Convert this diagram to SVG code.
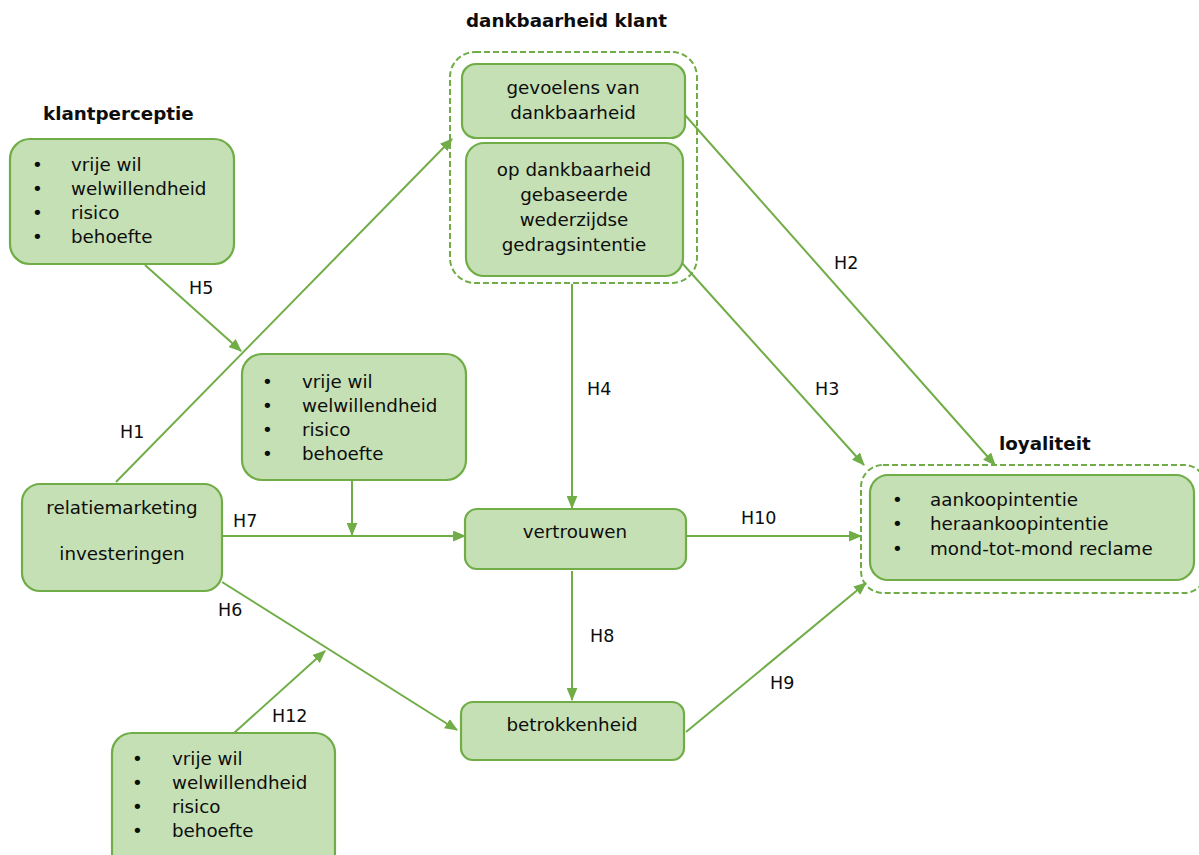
<svg xmlns="http://www.w3.org/2000/svg" width="1199" height="855" viewBox="0 0 1199 855">
<defs>
<style>
text{font-family:"DejaVu Sans","Verdana",sans-serif;font-size:18.3px;fill:#0d0d0d}
.t{font-weight:bold}
.c{text-anchor:middle}
.box{fill:#c5e0b4;stroke:#70ad47;stroke-width:2.2}
.grp{fill:none;stroke:#70ad47;stroke-width:2;stroke-dasharray:6 3}
.con line{stroke:#70ad47;stroke-width:2;marker-end:url(#ah)}
.lbl{font-size:17.5px}
</style>
<marker id="ah" viewBox="0 0 12 10" refX="11" refY="5" markerWidth="13" markerHeight="11" markerUnits="userSpaceOnUse" orient="auto">
<path d="M0,0 L12,5 L0,10 z" fill="#70ad47"/>
</marker>
</defs>
<rect width="1199" height="855" fill="#fff"/>

<g id="title-klantperceptie"><text class="t" x="43" y="120">klantperceptie</text></g>
<g id="title-dankbaarheid"><text class="t" x="466" y="27">dankbaarheid klant</text></g>
<g id="title-loyaliteit"><text class="t" x="999" y="450">loyaliteit</text></g>

<g id="connectors" class="con">
<line x1="145" y1="265" x2="241" y2="351"/>
<line x1="116" y1="482" x2="452" y2="139"/>
<line x1="685" y1="115" x2="995" y2="465"/>
<line x1="682" y1="263" x2="864" y2="465"/>
<line x1="572" y1="284" x2="572" y2="508"/>
<line x1="352" y1="481" x2="352" y2="535"/>
<line x1="222" y1="536" x2="465" y2="536"/>
<line x1="686" y1="536" x2="861" y2="536"/>
<line x1="572" y1="571" x2="572" y2="700"/>
<line x1="686" y1="732" x2="866" y2="583"/>
<line x1="222" y1="582" x2="457" y2="730"/>
<line x1="234" y1="733" x2="325" y2="651"/>
<g class="lbl-g">
<text class="lbl" x="189" y="294">H5</text>
<text class="lbl" x="120" y="438">H1</text>
<text class="lbl" x="834" y="269">H2</text>
<text class="lbl" x="815" y="395">H3</text>
<text class="lbl" x="587" y="395">H4</text>
<text class="lbl" x="368" y="478">H11</text>
<text class="lbl" x="233" y="527">H7</text>
<text class="lbl" x="741" y="524">H10</text>
<text class="lbl" x="590" y="642">H8</text>
<text class="lbl" x="770" y="689">H9</text>
<text class="lbl" x="218" y="616">H6</text>
<text class="lbl" x="272" y="722">H12</text>
</g>
</g>

<g id="klantperceptie">
<rect class="box" x="10" y="139" width="224" height="125" rx="20"/>
<text x="32" y="171">•</text><text x="71" y="171">vrije wil</text>
<text x="32" y="195">•</text><text x="71" y="195">welwillendheid</text>
<text x="32" y="219">•</text><text x="71" y="219">risico</text>
<text x="32" y="243">•</text><text x="71" y="243">behoefte</text>
</g>

<g id="dankbaarheid-klant">
<rect class="grp" x="450" y="52" width="247" height="231" rx="25"/>
</g>
<g id="gevoelens">
<rect class="box" x="462" y="64" width="223" height="74" rx="14"/>
<text class="c" x="573" y="94">gevoelens van</text>
<text class="c" x="573" y="119">dankbaarheid</text>
</g>
<g id="gedragsintentie">
<rect class="box" x="466" y="143" width="217" height="133" rx="18"/>
<text class="c" x="574" y="176">op dankbaarheid</text>
<text class="c" x="574" y="201">gebaseerde</text>
<text class="c" x="574" y="226">wederzijdse</text>
<text class="c" x="574" y="251">gedragsintentie</text>
</g>

<g id="moderator-h11">
<rect class="box" x="242" y="354" width="224" height="126" rx="20"/>
<text x="262" y="388">•</text><text x="302" y="388">vrije wil</text>
<text x="262" y="412">•</text><text x="302" y="412">welwillendheid</text>
<text x="262" y="436">•</text><text x="302" y="436">risico</text>
<text x="262" y="460">•</text><text x="302" y="460">behoefte</text>
</g>

<g id="relatiemarketing">
<rect class="box" x="22" y="484" width="200" height="107" rx="18"/>
<text class="c" x="122" y="514">relatiemarketing</text>
<text class="c" x="122" y="560">investeringen</text>
</g>

<g id="vertrouwen">
<rect class="box" x="465" y="509" width="221" height="60" rx="12"/>
<text class="c" x="575" y="538">vertrouwen</text>
</g>

<g id="betrokkenheid">
<rect class="box" x="461" y="702" width="223" height="58" rx="12"/>
<text class="c" x="572" y="731">betrokkenheid</text>
</g>

<g id="loyaliteit">
<rect class="grp" x="861" y="465" width="345" height="128" rx="22"/>
<rect class="box" x="870" y="475" width="324" height="105" rx="18"/>
<text x="892" y="506">•</text><text x="930" y="506">aankoopintentie</text>
<text x="892" y="530">•</text><text x="930" y="530">heraankoopintentie</text>
<text x="892" y="555">•</text><text x="930" y="555">mond-tot-mond reclame</text>
</g>

<g id="moderator-h12">
<rect class="box" x="112" y="733" width="223" height="140" rx="20"/>
<text x="132" y="765">•</text><text x="172" y="765">vrije wil</text>
<text x="132" y="789">•</text><text x="172" y="789">welwillendheid</text>
<text x="132" y="813">•</text><text x="172" y="813">risico</text>
<text x="132" y="837">•</text><text x="172" y="837">behoefte</text>
</g>
</svg>
